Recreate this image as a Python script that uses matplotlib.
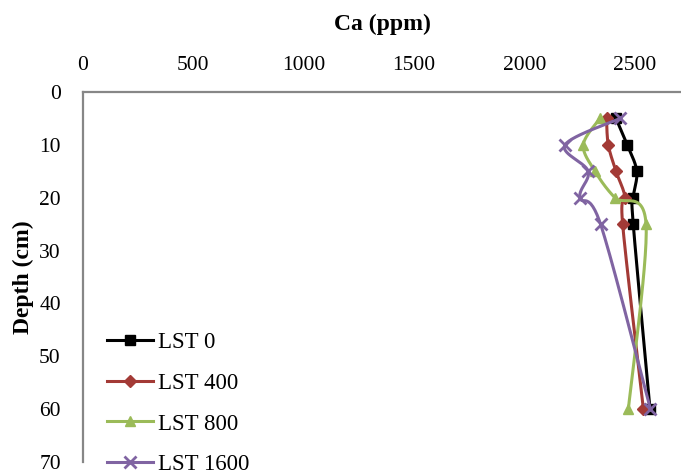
import numpy as np
import matplotlib.pyplot as plt

# depth (cm) and calcium (ppm) for each treatment
depth = [5, 10, 15, 20, 25, 60]
lst_0 = [2414, 2465, 2508, 2492, 2492, 2568]
lst_400 = [2371, 2379, 2414, 2455, 2444, 2538]
lst_800 = [2341, 2266, 2319, 2409, 2550, 2470]
lst_1600 = [2432, 2183, 2288, 2251, 2344, 2570]
labels = ['LST 0', 'LST 400', 'LST 800', 'LST 1600']

plt.rcParams['font.family'] = ['Liberation Serif', 'DejaVu Serif']


def smooth(x, y, n=30):
    # Excel style smoothed line: cubic bezier between neighbouring points
    p = np.column_stack([x, y]).astype(float)
    p = np.vstack([p[0], p, p[-1]])
    out = []
    for i in range(1, len(p) - 2):
        p0, p1, p2, p3 = p[i - 1], p[i], p[i + 1], p[i + 2]
        c1 = p1 + (p2 - p0) / 6
        c2 = p2 - (p3 - p1) / 6
        t = np.linspace(0, 1, n)[:, None]
        seg = ((1 - t) ** 3 * p1 + 3 * (1 - t) ** 2 * t * c1
               + 3 * (1 - t) * t ** 2 * c2 + t ** 3 * p2)
        out.append(seg if i == 1 else seg[1:])
    out = np.vstack(out)
    return out[:, 0], out[:, 1]


fig = plt.figure(figsize=(6.81, 4.75), dpi=100)
ax = fig.add_axes([83 / 681, 1 - 462 / 475, 1 - 83 / 681, (462 - 92) / 475])

series = [lst_0, lst_400, lst_800, lst_1600]
cols = ['#000000', '#A33A36', '#9BBB59', '#8064A2']
marks = ['s', 'D', '^', 'x']
msizes = [7, 6.3, 7.5, 8]

for vals, c, m, ms, lab in zip(series, cols, marks, msizes, labels):
    sx, sy = smooth(vals, depth)
    ax.plot(sx, sy, color=c, lw=2.2)
    ax.plot(vals, depth, ls='none', marker=m, color=c, ms=ms, mew=2 if m == 'x' else 1)
    ax.plot([], [], color=c, lw=2.2, marker=m, ms=ms, mew=2 if m == 'x' else 1, label=lab)

ax.set_xlim(0, (681 - 83) / 110.4 * 500)
ax.set_ylim(70, 0)
ax.set_xticks([0, 500, 1000, 1500, 2000, 2500])
ax.set_yticks(range(0, 71, 10))
ax.xaxis.tick_top()
ax.xaxis.set_label_position('top')
ax.tick_params(axis='both', length=0, labelsize=15.5)
ax.tick_params(axis='x', pad=12)
ax.tick_params(axis='y', pad=16)

for s in ['right', 'bottom']:
    ax.spines[s].set_visible(False)
for s in ['left', 'top']:
    ax.spines[s].set_color('#878787')
    ax.spines[s].set_linewidth(1.6)

ax.set_xlabel('Ca (ppm)', fontsize=17, fontweight='bold', labelpad=19)
ax.set_ylabel('Depth (cm)', fontsize=17, fontweight='bold', labelpad=4)

ax.legend(loc='lower left', frameon=False, fontsize=16.5, handlelength=2.0,
          handletextpad=0.2, labelspacing=0.85, borderaxespad=0.0,
          bbox_to_anchor=(0.025, -0.06))

fig.savefig('out.png', dpi=100)
